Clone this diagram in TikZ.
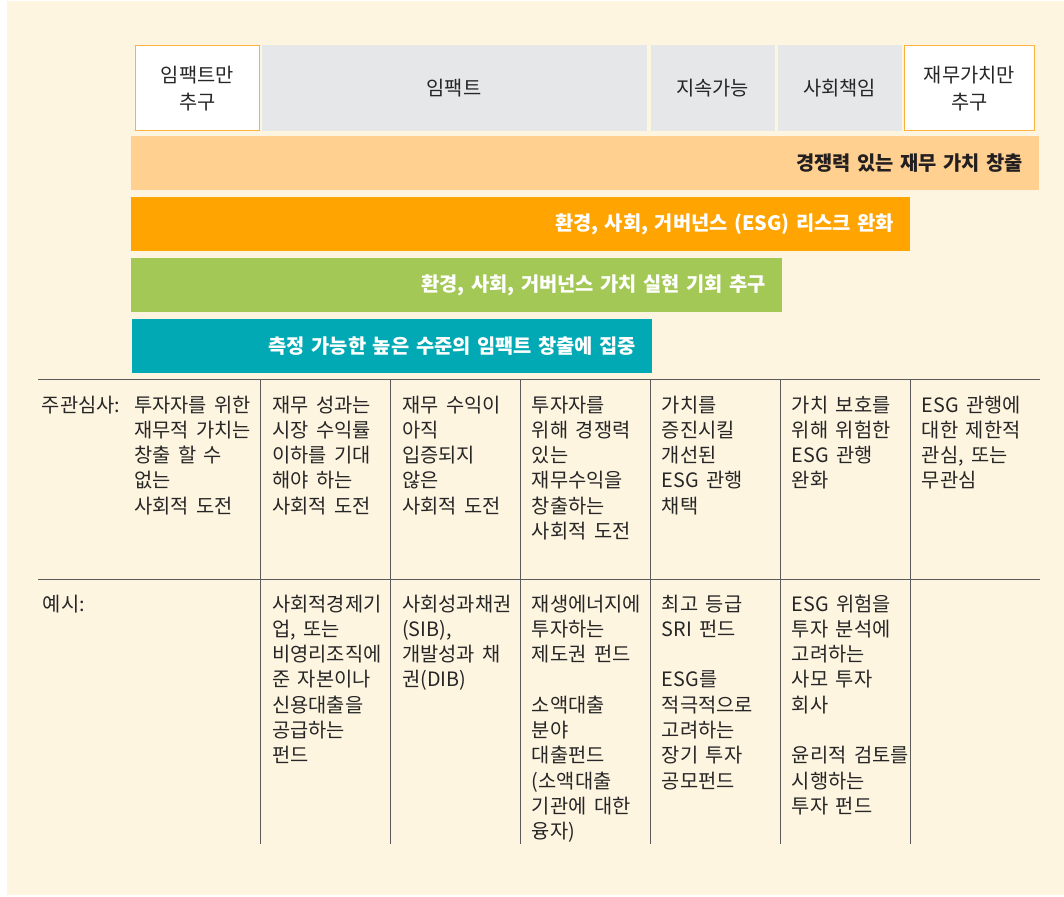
\documentclass[tikz,border=0pt]{standalone}
\usepackage{fontspec}
\setmainfont{Noto Sans CJK KR}[WordSpace=1.7]
\definecolor{cream}{HTML}{FEF5E1}
\definecolor{barA}{HTML}{FFD08F}
\definecolor{barB}{HTML}{FFA400}
\definecolor{barC}{HTML}{A3C856}
\definecolor{barD}{HTML}{00A9B3}
\definecolor{grayb}{HTML}{E6E7E8}
\definecolor{boxor}{HTML}{FBB040}
\definecolor{rulec}{HTML}{5A5A5A}
\definecolor{txt}{HTML}{262626}
\definecolor{dark}{HTML}{231F20}
\newcommand\tcell[1]{\begin{tabular}[t]{@{}l@{}}#1\end{tabular}}
\tikzset{
  hd/.style={anchor=north west, inner sep=0pt, align=center, text=txt, line width=1pt,
    font=\fontsize{19.8}{26.7}\selectfont},
  bar/.style={anchor=north west, minimum height=54pt, inner xsep=16pt, inner ysep=0pt,
    align=right, font=\fontsize{19.8}{22}\selectfont\bfseries},
  cell/.style={anchor=base west, inner sep=0pt, text=txt,
    font=\fontsize{19.8}{25.3}\selectfont},
  rule/.style={draw=rulec, line width=1pt}
}
\begin{document}
\begin{tikzpicture}[x=1pt,y=-1pt]
\useasboundingbox (0,0) rectangle (1064,896);
\fill[white] (0,0) rectangle (1064,896);
\fill[cream] (7,1) rectangle (1064,895);
% header boxes
\node[hd, fill=white, draw=boxor, minimum width=124pt, minimum height=85pt] (h1) at (134.8,45.5) {임팩트만\\추구};
\node[hd, fill=grayb, minimum width=385pt, minimum height=86pt] (h2) at (261,45) {임팩트};
\node[hd, fill=grayb, minimum width=124pt, minimum height=86pt] (h3) at (650,45) {지속가능};
\node[hd, fill=grayb, minimum width=124pt, minimum height=86pt] (h4) at (777,45) {사회책임};
\node[hd, fill=white, draw=boxor, minimum width=130pt, minimum height=85pt] (h5) at (904,45.5) {재무가치만\\추구};
% bars
\node[bar, fill=barA, text=dark, minimum width=908pt, text width=876pt] (b1) at (131,136) {경쟁력 있는 재무 가치 창출};
\node[bar, fill=barB, text=white, minimum width=779pt, text width=747pt] (b2) at (131,197) {환경, 사회, 거버넌스 (ESG) 리스크 완화};
\node[bar, fill=barC, text=white, minimum width=651pt, text width=619pt] (b3) at (131,258) {환경, 사회, 거버넌스 가치 실현 기회 추구};
\node[bar, fill=barD, text=white, minimum width=520pt, text width=488pt] (b4) at (132,319) {측정 가능한 높은 수준의 임팩트 창출에 집중};
% table rules
\draw[rule] (38,379.5) -- (1040,379.5);
\draw[rule] (38,579.3) -- (1040,579.3);
\foreach \x in {260.7,390.7,520.7,650.7,780.7,910.7}
  \draw[rule] (\x,379.5) -- (\x,844);
% row 1
\node[cell] (r1l) at (41.7,412) {\tcell{주관심사:}};
\node[cell] (r1c1) at (134,412) {\tcell{투자자를 위한\\재무적 가치는\\창출 할 수\\없는\\사회적 도전}};
\node[cell] (r1c2) at (272,412) {\tcell{재무 성과는\\시장 수익률\\이하를 기대\\해야 하는\\사회적 도전}};
\node[cell] (r1c3) at (402,412) {\tcell{재무 수익이\\아직\\입증되지\\않은\\사회적 도전}};
\node[cell] (r1c4) at (531.7,412) {\tcell{투자자를\\위해 경쟁력\\있는\\재무수익을\\창출하는\\사회적 도전}};
\node[cell] (r1c5) at (661.7,412) {\tcell{가치를\\증진시킬\\개선된\\ESG 관행\\채택}};
\node[cell] (r1c6) at (791.7,412) {\tcell{가치 보호를\\위해 위험한\\ESG 관행\\완화}};
\node[cell] (r1c7) at (921.7,412) {\tcell{ESG 관행에\\대한 제한적\\관심, 또는\\무관심}};
% row 2
\node[cell] (r2l) at (42.7,611) {\tcell{예시:}};
\node[cell] (r2c2) at (272,611) {\tcell{사회적경제기\\업, 또는\\비영리조직에\\준 자본이나\\신용대출을\\공급하는\\펀드}};
\node[cell] (r2c3) at (402,611) {\tcell{사회성과채권\\(SIB),\\개발성과 채\\권(DIB)}};
\node[cell] (r2c4) at (531.7,611) {\tcell{재생에너지에\\투자하는\\제도권 펀드\\ \\소액대출\\분야\\대출펀드\\(소액대출\\기관에 대한\\융자)}};
\node[cell] (r2c5) at (661.7,611) {\tcell{최고 등급\\SRI 펀드\\ \\ESG를\\적극적으로\\고려하는\\장기 투자\\공모펀드}};
\node[cell] (r2c6) at (791.7,611) {\tcell{ESG 위험을\\투자 분석에\\고려하는\\사모 투자\\회사\\ \\윤리적 검토를\\시행하는\\투자 펀드}};
\end{tikzpicture}
\end{document}
